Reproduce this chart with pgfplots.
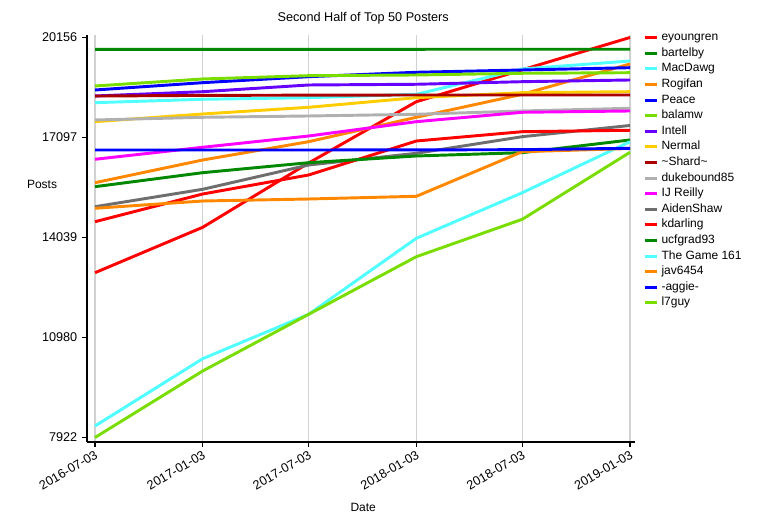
\documentclass[border=0pt]{standalone}
\usepackage{fontspec}
\setmainfont{Liberation Sans}
\usepackage{pgfplots}
\pgfplotsset{compat=1.18}

\definecolor{cRed}{RGB}{255,0,0}
\definecolor{cGreen}{RGB}{0,136,0}
\definecolor{cCyan}{RGB}{80,255,255}
\definecolor{cOrange}{RGB}{255,136,0}
\definecolor{cBlue}{RGB}{0,0,255}
\definecolor{cLime}{RGB}{122,221,0}
\definecolor{cPurple}{RGB}{102,0,255}
\definecolor{cGold}{RGB}{255,204,0}
\definecolor{cDarkRed}{RGB}{170,0,0}
\definecolor{cLightGray}{RGB}{176,176,176}
\definecolor{cMagenta}{RGB}{255,0,255}
\definecolor{cDarkGray}{RGB}{110,110,110}

\begin{document}
\begin{tikzpicture}
% page frame: 775x525 px at 0.75pt per px
\path (0,0) rectangle (581.25pt,393.75pt);
\begin{axis}[
    at={(65.25pt,62.25pt)}, anchor=south west,
    scale only axis,
    width=411pt, height=305.25pt,
    axis lines=left,
    axis line style={-, line width=0.9pt},
    tick align=outside,
    major tick length=3.75pt,
    tick style={black, line width=0.8pt},
    xmin=-13.7, xmax=922.5,
    ymin=7784, ymax=20232,
    xtick={0,184,365,549,730,914},
    xticklabels={2016-07-03,2017-01-03,2017-07-03,2018-01-03,2018-07-03,2019-01-03},
    ytick={7922,10980,14039,17097,20156},
    scaled y ticks=false,
    /pgf/number format/assume math mode=true,
    yticklabel={\pgfmathprintnumber[fixed,1000 sep={}]{\tick}},
    tick label style={font=\fontsize{9.5}{10}\selectfont},
    xticklabel style={rotate=30, anchor=north east, inner sep=1.5pt},
    xmajorgrids=true,
    grid style={black!18, line width=0.8pt},
    title={Second Half of Top 50 Posters},
    title style={at={(axis description cs:0.504,1.022)}, anchor=center, font=\fontsize{9.5}{11}\selectfont},
    xlabel={Date},
    every axis x label/.style={at={(axis description cs:0.504,-0.16)}, anchor=center, font=\fontsize{9}{10}\selectfont},
    ylabel={Posts},
    every axis y label/.style={at={(axis description cs:-0.082,0.634)}, anchor=center, font=\fontsize{9}{10}\selectfont},
    every axis plot/.append style={line width=2.2pt, line join=round},
    legend cell align=left,
    legend image code/.code={\draw[#1, line width=2.2pt] (0pt,0pt) -- (9.5pt,0pt);},
    legend style={at={(1,1)}, anchor=north west, xshift=3pt, yshift=6pt,
        draw=none, fill=none, font=\fontsize{9}{10}\selectfont, row sep=0pt,
        nodes={inner ysep=1.6pt, inner xsep=2pt, text height=6.5pt, text depth=2pt}},
]
\addplot[cRed] coordinates {(0,12962)(184,14351)(365,16318)(549,18192)(730,19168)(914,20156)};
\addlegendentry{eyoungren}
\addplot[cGreen] coordinates {(0,19790)(184,19792)(365,19794)(549,19795)(730,19796)(914,19797)};
\addlegendentry{bartelby}
\addplot[cCyan] coordinates {(0,18162)(184,18266)(365,18315)(549,18419)(730,19193)(914,19437)};
\addlegendentry{MacDawg}
\addplot[cOrange] coordinates {(0,15715)(184,16409)(365,16969)(549,17715)(730,18419)(914,19346)};
\addlegendentry{Rogifan}
\addplot[cBlue] coordinates {(0,18550)(184,18774)(365,18957)(549,19092)(730,19162)(914,19232)};
\addlegendentry{Peace}
\addplot[cLime] coordinates {(0,18673)(184,18887)(365,18988)(549,19009)(730,19061)(914,19079)};
\addlegendentry{balamw}
\addplot[cPurple] coordinates {(0,18367)(184,18498)(365,18703)(549,18725)(730,18804)(914,18856)};
\addlegendentry{Intell}
\addplot[cGold] coordinates {(0,17581)(184,17816)(365,18021)(549,18315)(730,18468)(914,18498)};
\addlegendentry{Nermal}
\addplot[cDarkRed] coordinates {(0,18365)(184,18385)(365,18392)(549,18397)(730,18397)(914,18397)};
\addlegendentry{\textasciitilde Shard\textasciitilde}
\addplot[cLightGray] coordinates {(0,17633)(184,17715)(365,17755)(549,17807)(730,17908)(914,17991)};
\addlegendentry{dukebound85}
\addplot[cMagenta] coordinates {(0,16431)(184,16798)(365,17143)(549,17581)(730,17868)(914,17908)};
\addlegendentry{IJ Reilly}
\addplot[cDarkGray] coordinates {(0,14981)(184,15513)(365,16256)(549,16614)(730,17122)(914,17465)};
\addlegendentry{AidenShaw}
\addplot[cRed] coordinates {(0,14522)(184,15369)(365,15951)(549,16990)(730,17275)(914,17318)};
\addlegendentry{kdarling}
\addplot[cGreen] coordinates {(0,15593)(184,16021)(365,16327)(549,16532)(730,16633)(914,17021)};
\addlegendentry{ucfgrad93}
\addplot[cCyan] coordinates {(0,8274)(184,10332)(365,11690)(549,14015)(730,15409)(914,16969)};
\addlegendentry{The Game 161}
\addplot[cOrange] coordinates {(0,14932)(184,15155)(365,15216)(549,15299)(730,16663)(914,16760)};
\addlegendentry{jav6454}
\addplot[cBlue] coordinates {(0,16715)(184,16715)(365,16715)(549,16718)(730,16725)(914,16767)};
\addlegendentry{-aggie-}
\addplot[cLime] coordinates {(0,7922)(184,9956)(365,11690)(549,13452)(730,14596)(914,16645)};
\addlegendentry{l7guy}
\end{axis}
\end{tikzpicture}
\end{document}
